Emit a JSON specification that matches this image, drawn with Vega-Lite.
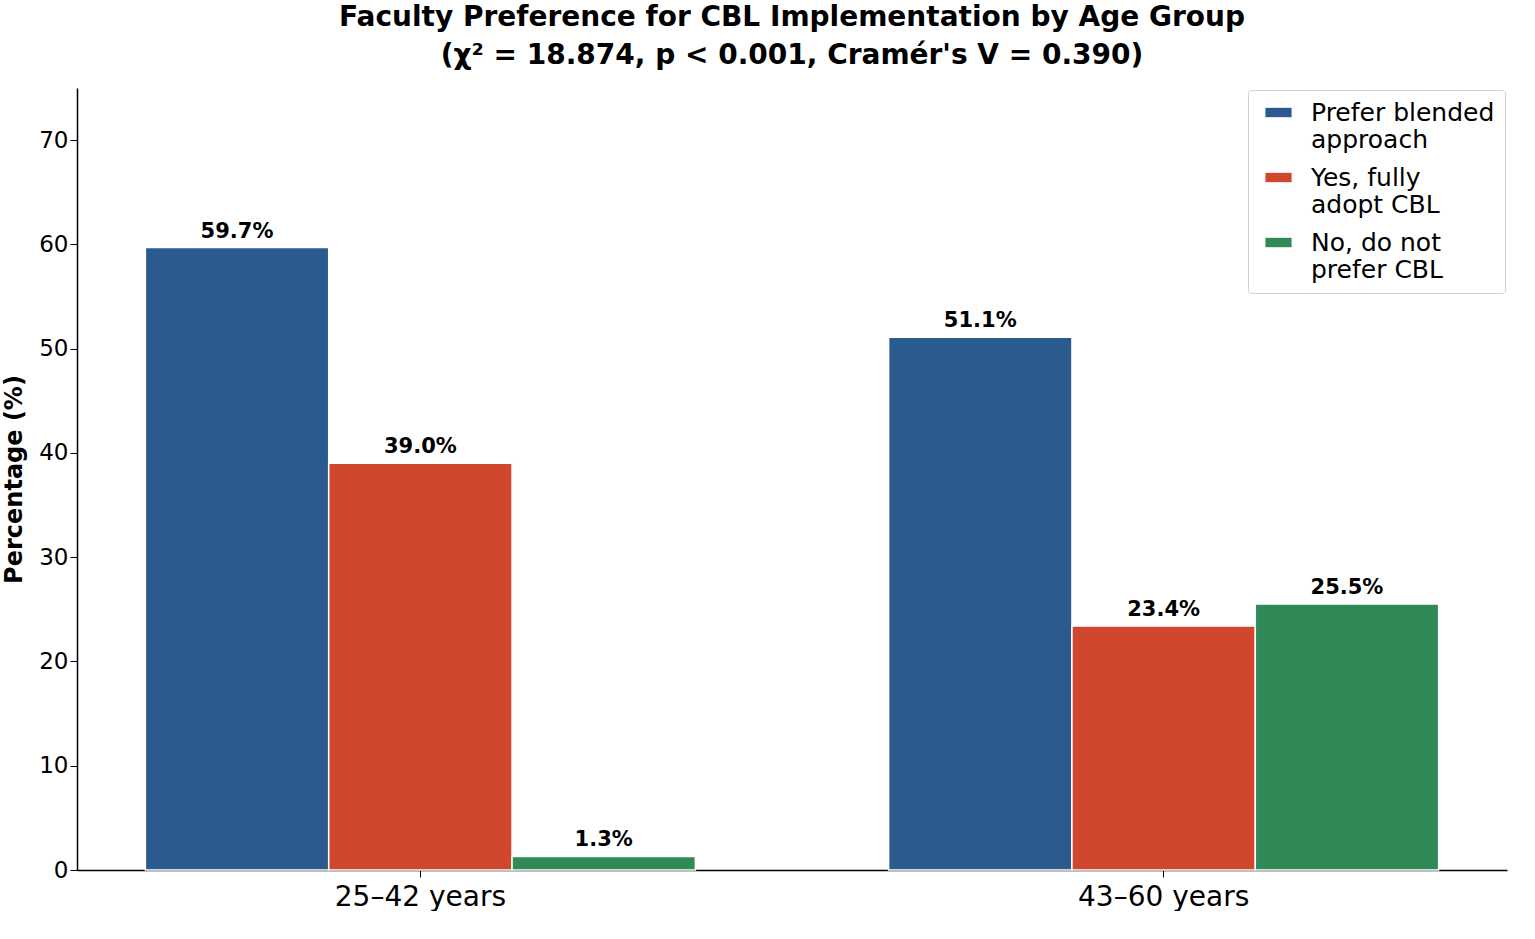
{
  "$schema": "https://vega.github.io/schema/vega-lite/v6.json",
  "width": 1430,
  "height": 782,
  "padding": {"left": 2, "top": 4, "right": 5, "bottom": 0},
  "background": "white",
  "title": {
    "text": ["Faculty Preference for CBL Implementation by Age Group", "(χ² = 18.874, p < 0.001, Cramér's V = 0.390)"],
    "font": "DejaVu Sans",
    "fontSize": 28,
    "fontWeight": "bold",
    "color": "black",
    "lineHeight": 38,
    "offset": 18
  },
  "data": {
    "values": [
      {"age": "25–42 years", "pref": "Prefer blended approach", "pct": 59.7},
      {"age": "25–42 years", "pref": "Yes, fully adopt CBL", "pct": 39.0},
      {"age": "25–42 years", "pref": "No, do not prefer CBL", "pct": 1.3},
      {"age": "43–60 years", "pref": "Prefer blended approach", "pct": 51.1},
      {"age": "43–60 years", "pref": "Yes, fully adopt CBL", "pct": 23.4},
      {"age": "43–60 years", "pref": "No, do not prefer CBL", "pct": 25.5}
    ]
  },
  "encoding": {
    "x": {
      "field": "age", "type": "nominal", "title": null,
      "scale": {"paddingInner": 0.26, "paddingOuter": 0.092},
      "axis": {"labelAngle": 0, "labelFontSize": 28, "labelFont": "DejaVu Sans", "labelColor": "black", "domainColor": "black", "domainWidth": 1.5, "tickColor": "black", "tickSize": 7, "labelPadding": 6}
    },
    "xOffset": {"field": "pref", "sort": ["Prefer blended approach", "Yes, fully adopt CBL", "No, do not prefer CBL"], "scale": {"paddingInner": 0, "paddingOuter": 0}},
    "y": {
      "field": "pct", "type": "quantitative", "title": "Percentage (%)",
      "scale": {"domain": [0, 75], "nice": false},
      "axis": {"values": [0, 10, 20, 30, 40, 50, 60, 70], "grid": false, "labelFontSize": 23, "labelFont": "DejaVu Sans", "labelColor": "black", "titleFont": "DejaVu Sans", "titleFontSize": 24, "titleFontWeight": "bold", "titleColor": "black", "domainColor": "black", "domainWidth": 1.5, "tickColor": "black", "tickSize": 7, "titlePadding": 12}
    }
  },
  "layer": [
    {
      "mark": {"type": "bar", "stroke": "white", "strokeWidth": 1.5},
      "encoding": {
        "color": {
          "field": "pref", "type": "nominal", "title": null,
          "sort": ["Prefer blended approach", "Yes, fully adopt CBL", "No, do not prefer CBL"],
          "scale": {"domain": ["Prefer blended approach", "Yes, fully adopt CBL", "No, do not prefer CBL"], "range": ["#2b5a8e", "#d1472d", "#2f8a58"]},
          "legend": {
            "orient": "top-right",
            "offset": 2,
            "symbolType": "M-1.4,-0.5h2.8v1h-2.8z",
            "symbolSize": 350,
            "symbolStrokeWidth": 0,
            "symbolOffset": 8,
            "labelOffset": 20,
            "labelFont": "DejaVu Sans",
            "labelFontSize": 25,
            "labelColor": "black",
            "labelLimit": 300,
            "rowPadding": 12,
            "padding": 10,
            "strokeColor": "#d8c8d8",
            "cornerRadius": 3,
            "fillColor": "white",
            "labelExpr": "datum.label == 'Prefer blended approach' ? ['Prefer blended', 'approach'] : datum.label == 'Yes, fully adopt CBL' ? ['Yes, fully', 'adopt CBL'] : ['No, do not', 'prefer CBL']"
          }
        }
      }
    },
    {
      "transform": [{"calculate": "format(datum.pct, '.1f') + '%'", "as": "lbl"}],
      "mark": {"type": "text", "dy": -16, "font": "DejaVu Sans", "fontSize": 21, "fontWeight": "bold", "color": "black"},
      "encoding": {
        "text": {"field": "lbl", "type": "nominal"},
        "detail": {"field": "pref"}
      }
    }
  ],
  "config": {"view": {"stroke": null}}
}
